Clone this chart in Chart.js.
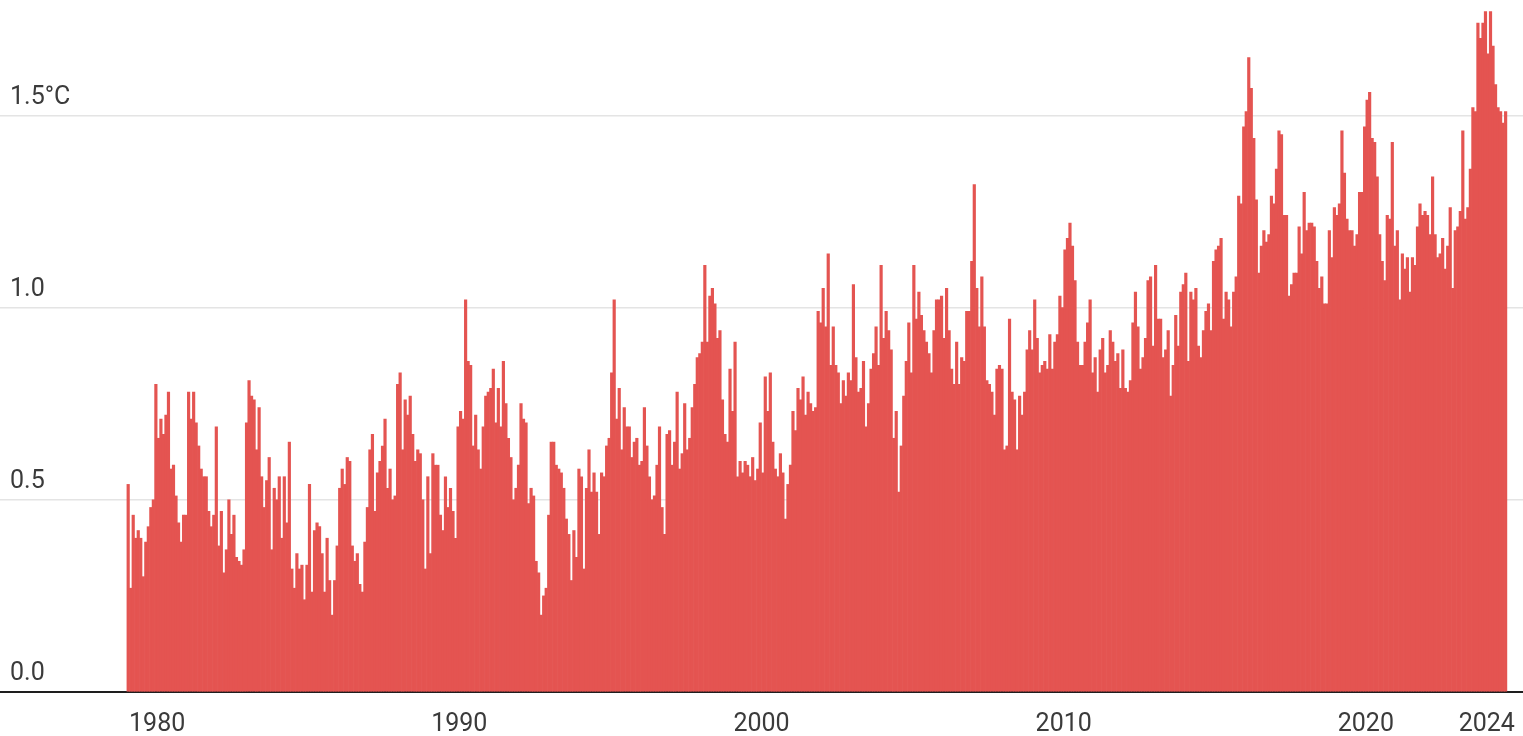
<!DOCTYPE html>
<html>
<head>
<meta charset="utf-8">
<script src="https://cdn.jsdelivr.net/npm/chart.js@4"></script>
<style>
  html, body { margin: 0; padding: 0; background: #fff; }
  #wrap { width: 1523px; height: 736px; position: relative; }
</style>
</head>
<body>
<div id="wrap"><canvas id="anomChart"></canvas></div>
<script>
// Monthly global temperature anomaly, Jan 1979 - Aug 2024 (°C)
const startYear = 1979;

const anom1979to1989 = [
    0.54,0.27,0.46,0.40,0.42,0.40,0.30,0.39,0.43,0.48,0.50,0.80,
    0.66,0.71,0.67,0.72,0.78,0.58,0.59,0.51,0.44,0.39,0.46,0.46,
    0.78,0.71,0.78,0.70,0.64,0.58,0.56,0.56,0.47,0.43,0.46,0.69,
    0.38,0.47,0.31,0.37,0.50,0.41,0.46,0.35,0.34,0.33,0.37,0.70,
    0.81,0.77,0.76,0.63,0.74,0.56,0.48,0.55,0.61,0.37,0.53,0.50,
    0.56,0.40,0.56,0.44,0.65,0.32,0.27,0.36,0.32,0.33,0.24,0.33,
    0.54,0.26,0.42,0.44,0.43,0.36,0.26,0.40,0.29,0.20,0.29,0.38,
    0.53,0.58,0.54,0.61,0.60,0.38,0.34,0.36,0.28,0.26,0.39,0.48,
    0.63,0.67,0.47,0.57,0.60,0.64,0.71,0.53,0.58,0.50,0.51,0.80,
    0.83,0.63,0.76,0.72,0.77,0.67,0.60,0.63,0.62,0.50,0.32,0.56,
    0.36,0.62,0.59,0.59,0.46,0.42,0.56,0.48,0.53,0.47,0.40,0.69
];
const anom1990s = [
    0.73,0.71,1.02,0.86,0.85,0.64,0.72,0.63,0.58,0.69,0.77,0.78,
    0.79,0.84,0.70,0.79,0.69,0.86,0.75,0.66,0.61,0.50,0.53,0.59,
    0.75,0.71,0.70,0.49,0.53,0.51,0.34,0.31,0.20,0.25,0.27,0.46,
    0.65,0.65,0.59,0.58,0.57,0.53,0.45,0.41,0.29,0.42,0.35,0.58,
    0.56,0.32,0.53,0.63,0.52,0.57,0.52,0.41,0.57,0.56,0.64,0.66,
    0.83,1.02,0.71,0.79,0.63,0.74,0.69,0.69,0.61,0.65,0.66,0.59,
    0.60,0.74,0.64,0.56,0.50,0.51,0.59,0.69,0.48,0.41,0.67,0.68,
    0.59,0.65,0.78,0.58,0.62,0.75,0.63,0.66,0.74,0.80,0.87,0.88,
    0.91,1.11,0.91,1.03,1.05,1.01,0.92,0.94,0.76,0.67,0.65,0.84,
    0.73,0.91,0.56,0.60,0.57,0.60,0.59,0.56,0.61,0.55,0.58,0.70
];
const anom2000s = [
    0.57,0.82,0.73,0.83,0.65,0.58,0.56,0.62,0.57,0.45,0.54,0.59,
    0.73,0.68,0.79,0.76,0.82,0.72,0.78,0.75,0.73,0.74,0.99,0.96,
    1.05,0.95,1.14,0.85,0.95,0.85,0.83,0.75,0.81,0.77,0.83,0.81,
    1.06,0.87,0.78,0.79,0.86,0.69,0.75,0.84,0.88,0.95,0.85,1.11,
    0.92,0.99,0.94,0.89,0.66,0.73,0.52,0.64,0.77,0.86,0.96,0.83,
    1.11,0.97,1.04,0.98,0.94,0.91,0.88,0.83,0.94,1.02,1.02,1.03,
    0.92,1.05,0.94,0.84,0.80,0.91,0.80,0.87,0.86,0.99,0.99,1.12,
    1.32,1.05,0.95,1.08,0.95,0.81,0.80,0.78,0.72,0.84,0.85,0.84,
    0.63,0.64,0.97,0.78,0.76,0.63,0.77,0.72,0.78,0.89,0.94,0.89,
    1.02,0.92,0.83,0.85,0.86,0.84,0.93,0.84,0.91,0.93,1.03,1.00
];
const anom2010s = [
    1.15,1.18,1.22,1.16,1.07,0.91,0.85,0.85,0.91,0.96,1.02,0.83,
    0.87,0.78,0.89,0.92,0.83,0.85,0.94,0.91,0.86,0.88,0.79,0.89,
    0.79,0.78,0.81,0.96,1.04,0.95,0.84,0.87,0.92,1.07,1.08,0.90,
    1.11,0.97,0.97,0.87,0.89,0.94,0.77,0.85,0.98,0.90,1.04,1.06,
    1.09,0.86,1.04,1.02,1.05,0.90,0.87,0.94,0.99,1.01,0.94,1.12,
    1.15,1.16,1.18,0.97,1.04,1.02,0.95,1.04,1.08,1.29,1.27,1.47,
    1.51,1.65,1.57,1.44,1.28,1.09,1.16,1.20,1.17,1.19,1.29,1.27,
    1.36,1.46,1.45,1.24,1.24,1.03,1.06,1.09,1.09,1.21,1.14,1.30,
    1.20,1.22,1.22,1.21,1.12,1.05,1.08,1.01,1.01,1.20,1.13,1.26,
    1.24,1.27,1.46,1.35,1.23,1.20,1.20,1.16,1.19,1.30,1.30,1.47
];
const anom2020s = [
    1.54,1.56,1.44,1.43,1.34,1.19,1.12,1.07,1.24,1.23,1.43,1.16,
    1.20,1.02,1.14,1.10,1.13,1.04,1.13,1.11,1.21,1.27,1.24,1.25,
    1.24,1.19,1.34,1.19,1.13,1.14,1.18,1.10,1.16,1.26,1.05,1.20,
    1.21,1.25,1.46,1.23,1.26,1.36,1.52,1.51,1.74,1.70,1.74,1.77,
    1.66,1.77,1.68,1.58,1.52,1.51,1.48,1.51
];

// Axis ticks
const xTicks = [1980, 1990, 2000, 2010, 2020, 2024];
const yTicks = [0, 0.5, 1.0, 1.5];
const yTickLabels = ["0.0", "0.5", "1.0", "1.5°C"];

// Build points: each month centred in its slot on a decimal-year axis
const allMonths = [].concat(anom1979to1989, anom1990s, anom2000s, anom2010s, anom2020s);
const points = allMonths.map((v, i) => ({ x: startYear + (i + 0.5) / 12, y: v }));

const textColor = "#3b3b3b";
const tickFont = { family: "Roboto", size: 25 };

const ctx = document.getElementById("anomChart").getContext("2d");
new Chart(ctx, {
    type: "bar",
    data: {
        datasets: [{
            data: points,
            backgroundColor: "#e45451",
            borderWidth: 0,
            barPercentage: 1,
            categoryPercentage: 1
        }]
    },
    options: {
        responsive: true,
        maintainAspectRatio: false,
        animation: false,
        layout: { padding: 0 },
        plugins: {
            legend: { display: false },
            tooltip: { enabled: false }
        },
        scales: {
            x: {
                type: "linear",
                min: 1974.8,
                max: 2025.2,
                offset: false,
                grid: { display: false, drawTicks: false },
                border: { display: true, color: "#1e1e1e", width: 2 },
                afterBuildTicks: s => { s.ticks = xTicks.map(v => ({ value: v })); },
                afterFit: s => { s.height = 44; s.paddingLeft = 0; s.paddingRight = 0; },
                ticks: {
                    color: textColor,
                    font: tickFont,
                    padding: 18,
                    maxRotation: 0,
                    autoSkip: false,
                    callback: v => String(v)
                }
            },
            y: {
                min: 0,
                max: 1.8,
                grid: {
                    color: ctx => ctx.tick && ctx.tick.value === 0 ? "rgba(0,0,0,0)" : "#e4e4e4",
                    lineWidth: 1.5,
                    drawTicks: false
                },
                border: { display: false },
                afterBuildTicks: s => { s.ticks = yTicks.map(v => ({ value: v })); },
                afterFit: s => { s.width = 0; s.paddingTop = 0; s.paddingBottom = 0; },
                ticks: {
                    mirror: true,
                    padding: 10,
                    labelOffset: -18,
                    color: textColor,
                    font: tickFont,
                    callback: (v, i) => yTickLabels[i]
                }
            }
        }
    }
});
</script>
</body>
</html>
